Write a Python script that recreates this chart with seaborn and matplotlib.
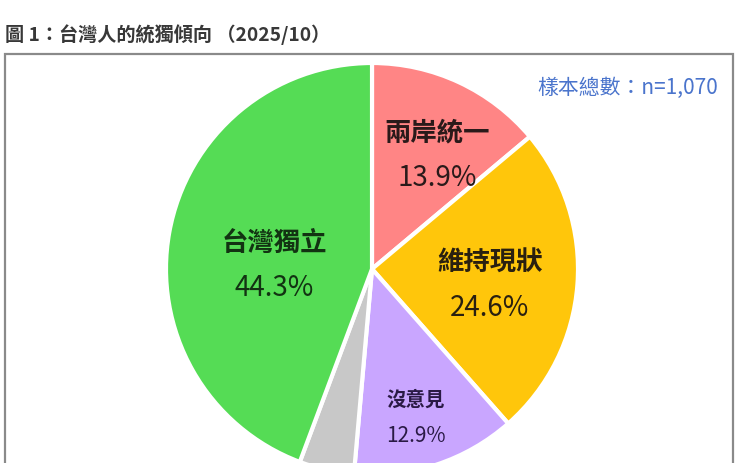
"""Pie chart: 台灣人的統獨傾向 (2025/10)."""

import matplotlib

matplotlib.use("Agg")
import matplotlib.pyplot as plt
import numpy as np
import seaborn as sns
from matplotlib.patches import Rectangle

categories = ["兩岸統一", "維持現狀", "沒意見", "未表態", "台灣獨立"]
shares = [13.9, 24.6, 12.9, 4.3, 44.3]
colors = ["#FF8585", "#FFC60B", "#C9A6FF", "#C8C8C8", "#55DC55"]
show_label = [True, True, True, False, True]
# label placement relative to each wedge: radius and angle nudge (deg)
label_radius = [0.64, 0.578, 0.75, 0.8, 0.476]
label_turn = [-4.5, -3.2, -1.6, 0.0, 7.6]
name_size = [19, 19, 14, 13, 19]
value_size = [20, 20, 15, 13, 20]
line_gap = [0.109, 0.109, 0.087, 0.09, 0.109]
label_color = ["#2a1a1a", "#2a2010", "#2a1a45", "#333333", "#123312"]

title = "圖 1：台灣人的統獨傾向 （2025/10）"
sample_note = "樣本總數：n=1,070"

W, H = 742, 464
sns.set_theme(style="white")
plt.rcParams["font.family"] = ["Noto Sans CJK TC", "DejaVu Sans"]

fig = plt.figure(figsize=(W / 100, H / 100), dpi=100)
fig.patch.set_facecolor("white")

# outer frame of the figure panel (runs off the bottom edge)
fig.patches.append(Rectangle(
    (5 / W, -0.1), 728 / W, 1.1 - 55 / H, transform=fig.transFigure,
    facecolor="none", edgecolor="#8a8a8a", linewidth=1.6, zorder=-1,
))

cx, cy, r = 372, 270, 206
ax = fig.add_axes([(cx - r) / W, (H - cy - r) / H, 2 * r / W, 2 * r / H])
wedges, _ = ax.pie(
    shares, colors=colors, startangle=90, counterclock=False,
    wedgeprops={"edgecolor": "white", "linewidth": 3},
)
ax.set_xlim(-1, 1)
ax.set_ylim(-1, 1)
ax.set_aspect("equal")
ax.axis("off")

for i, wedge in enumerate(wedges):
    if not show_label[i]:
        continue
    mid = np.deg2rad((wedge.theta1 + wedge.theta2) / 2 + label_turn[i])
    x = label_radius[i] * np.cos(mid)
    y = label_radius[i] * np.sin(mid)
    ax.text(x, y + line_gap[i], categories[i], ha="center", va="center",
            fontsize=name_size[i], fontweight="bold", color=label_color[i])
    ax.text(x, y - line_gap[i], f"{shares[i]:.1f}%", ha="center",
            va="center", fontsize=value_size[i], fontweight="medium",
            color=label_color[i])

fig.text(5 / W, 1 - 35 / H, title, ha="left", va="center", fontsize=13.8,
         color="#383838", fontweight="bold")
fig.text(718 / W, 1 - 88 / H, sample_note, ha="right", va="center",
         fontsize=15, color="#4A74CC", fontweight="medium")

fig.savefig("out.png", dpi=100)
